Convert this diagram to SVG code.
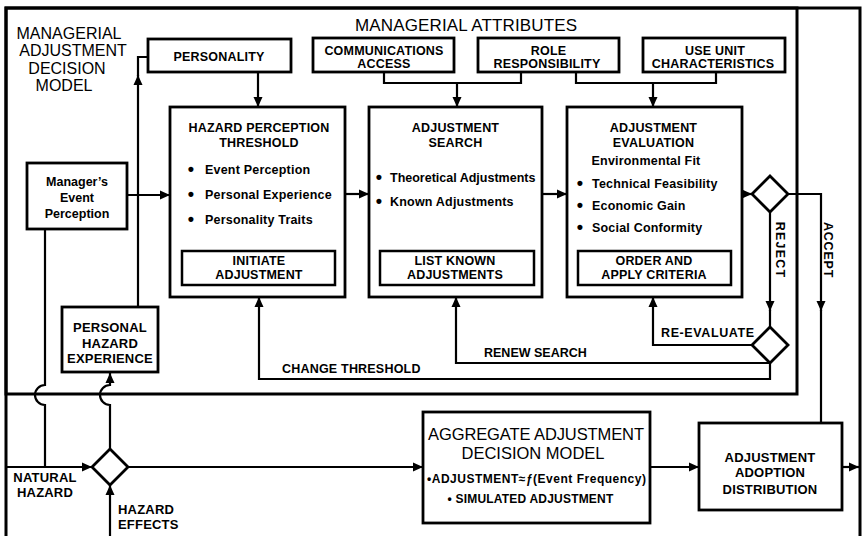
<svg xmlns="http://www.w3.org/2000/svg" width="864" height="536" viewBox="0 0 864 536">
<defs>
<marker id="ah" markerWidth="10" markerHeight="10" refX="10" refY="5" orient="auto" markerUnits="userSpaceOnUse"><path d="M0,0.5 L10,5 L0,9.5 Z" fill="#000"/></marker>
<style>
.fr{fill:none;stroke:#000;stroke-width:3}
.box{fill:#fff;stroke:#000;stroke-width:2.8}
.ib{fill:none;stroke:#000;stroke-width:2.5}
.ln{fill:none;stroke:#000;stroke-width:2.2}
.ar{marker-end:url(#ah)}
text{font-family:"Liberation Sans",Arial,sans-serif;fill:#000}
.b{font-weight:bold;font-size:12.5px;letter-spacing:0.2px}
.b13{font-weight:bold;font-size:13px;letter-spacing:0.2px}
.r{font-size:16px}
.m{text-anchor:middle}
.dot{font-size:18px;text-anchor:middle;font-weight:bold}
</style>
</defs>
<rect width="864" height="536" fill="#fff"/>
<g id="frame">
<path class="fr" d="M6,536 V8 H860 V536"/>
<rect class="fr" x="6" y="8" width="791" height="386"/>
<text class="r m" x="69" y="38.5">MANAGERIAL</text>
<text class="r m" x="73" y="56">ADJUSTMENT</text>
<text class="r m" x="67" y="73.5">DECISION</text>
<text class="r m" x="64" y="91">MODEL</text>
<text class="r m" x="466" y="31" style="font-size:17px" textLength="222">MANAGERIAL  ATTRIBUTES</text>
</g>
<g id="connectors">
<path class="ln ar" d="M127,195 H170"/>
<path class="ln ar" d="M138,307 V75"/>
<path class="ln" d="M138,76 V57 H148"/>
<path class="ln ar" d="M258,72 V107"/>
<path class="ln" d="M384,72 V83 H521 V72"/>
<path class="ln ar" d="M457,83 V107"/>
<path class="ln" d="M576,72 V83 H716 V72"/>
<path class="ln ar" d="M653,83 V107"/>
<path class="ln ar" d="M345,194 H369"/>
<path class="ln ar" d="M542,194 H567"/>
<path class="ln ar" d="M742,194 H752"/>
<path class="ln ar" d="M770,212 V311"/>
<path class="ln" d="M770,310 V327"/>
<path class="ln ar" d="M788,194 H821 V311"/>
<path class="ln" d="M821,310 V423"/>
<path class="ln ar" d="M752,345 H653 V297"/>
<path class="ln ar" d="M770,363 H456 V297"/>
<path class="ln ar" d="M770,363 V379 H259 V297"/>
<path class="ln" d="M45,229 V385 A10,10 0 0 0 45,405 V467"/>
<path class="ln ar" d="M110,449 V405 A10,10 0 0 1 110,385 V373"/>
<path class="ln ar" d="M6,467 H92"/>
<path class="ln ar" d="M110,536 V485"/>
<path class="ln ar" d="M128,467 H423"/>
<path class="ln ar" d="M650,467 H699"/>
<path class="ln ar" d="M842,467 H859"/>
<text class="b" transform="translate(776,250) rotate(90)" text-anchor="middle" style="letter-spacing:1.2px">REJECT</text>
<text class="b" transform="translate(824,250) rotate(90)" text-anchor="middle" style="letter-spacing:0.8px">ACCEPT</text>
<text class="b" x="661" y="337" style="letter-spacing:0.6px">RE-EVALUATE</text>
<text class="b" x="484" y="357" style="letter-spacing:0px">RENEW SEARCH</text>
<text class="b" x="282" y="373">CHANGE THRESHOLD</text>
<text class="b13 m" x="45" y="482">NATURAL</text>
<text class="b13 m" x="45" y="497">HAZARD</text>
<text class="b13" x="118" y="514">HAZARD</text>
<text class="b13" x="118" y="529">EFFECTS</text>
</g>
<g id="personality">
<rect class="box" x="148" y="39" width="143" height="33"/>
<text class="b m" x="219" y="61">PERSONALITY</text>
</g>
<g id="communications-access">
<rect class="box" x="313" y="38" width="141" height="34"/>
<text class="b m" x="384" y="55">COMMUNICATIONS</text>
<text class="b m" x="384" y="68">ACCESS</text>
</g>
<g id="role-responsibility">
<rect class="box" x="478" y="38" width="141" height="34"/>
<text class="b m" x="548.5" y="55">ROLE</text>
<text class="b m" x="547" y="68">RESPONSIBILITY</text>
</g>
<g id="use-unit-characteristics">
<rect class="box" x="643" y="38" width="142" height="34"/>
<text class="b m" x="715" y="55">USE UNIT</text>
<text class="b m" x="713" y="68">CHARACTERISTICS</text>
</g>
<g id="managers-event-perception">
<rect class="box" x="27" y="163" width="100" height="66"/>
<text class="b m" x="77" y="186" style="letter-spacing:0px">Manager’s</text>
<text class="b m" x="77" y="202" style="letter-spacing:0px">Event</text>
<text class="b m" x="77" y="218" style="letter-spacing:0px">Perception</text>
</g>
<g id="hazard-perception-threshold">
<rect class="box" x="170" y="107" width="175" height="190"/>
<text class="b m" x="259" y="132">HAZARD PERCEPTION</text>
<text class="b m" x="259" y="147">THRESHOLD</text>
<text class="dot" x="191" y="175">•</text>
<text class="dot" x="191" y="200">•</text>
<text class="dot" x="191" y="225">•</text>
<text class="b" x="205" y="174">Event Perception</text>
<text class="b" x="205" y="199">Personal Experience</text>
<text class="b" x="205" y="224">Personality Traits</text>
<rect class="ib" x="182" y="251" width="153" height="34"/>
<text class="b m" x="259" y="265">INITIATE</text>
<text class="b m" x="259" y="279">ADJUSTMENT</text>
</g>
<g id="adjustment-search">
<rect class="box" x="369" y="107" width="173" height="190"/>
<text class="b m" x="455.5" y="132">ADJUSTMENT</text>
<text class="b m" x="455.5" y="147">SEARCH</text>
<text class="dot" x="379" y="183">•</text>
<text class="dot" x="379" y="207">•</text>
<text class="b" x="390" y="182" style="letter-spacing:0px">Theoretical Adjustments</text>
<text class="b" x="390" y="206">Known Adjustments</text>
<rect class="ib" x="380" y="251" width="154" height="34"/>
<text class="b m" x="455" y="265">LIST KNOWN</text>
<text class="b m" x="455" y="279">ADJUSTMENTS</text>
</g>
<g id="adjustment-evaluation">
<rect class="box" x="567" y="107" width="175" height="190"/>
<text class="b m" x="653.5" y="132">ADJUSTMENT</text>
<text class="b m" x="653.5" y="147">EVALUATION</text>
<text class="b m" x="646" y="165">Environmental Fit</text>
<text class="dot" x="580" y="188.5">•</text>
<text class="dot" x="580" y="211">•</text>
<text class="dot" x="580" y="232.5">•</text>
<text class="b" x="592" y="187.5">Technical Feasibility</text>
<text class="b" x="592" y="210">Economic Gain</text>
<text class="b" x="592" y="231.5">Social Conformity</text>
<rect class="ib" x="578" y="251" width="153" height="34"/>
<text class="b m" x="654" y="265">ORDER AND</text>
<text class="b m" x="654" y="279">APPLY CRITERIA</text>
</g>
<g id="decision-diamond">
<polygon class="box" points="770,176 788,194 770,212 752,194"/>
</g>
<g id="reevaluate-diamond">
<polygon class="box" points="770,327 788,345 770,363 752,345"/>
</g>
<g id="personal-hazard-experience">
<rect class="box" x="62" y="307" width="96" height="65"/>
<text class="b13 m" x="110" y="332">PERSONAL</text>
<text class="b13 m" x="110" y="348">HAZARD</text>
<text class="b13 m" x="110" y="363">EXPERIENCE</text>
</g>
<g id="hazard-diamond">
<polygon class="box" points="110,449 128,467 110,485 92,467"/>
</g>
<g id="aggregate-adjustment-decision-model">
<rect class="box" x="423" y="412" width="227" height="111"/>
<text class="r m" x="536" y="440" style="font-size:16.5px" textLength="216">AGGREGATE ADJUSTMENT</text>
<text class="r m" x="533" y="459" style="font-size:16.5px">DECISION MODEL</text>
<text class="b" x="427" y="483" style="font-size:12px;letter-spacing:0px" textLength="219">•ADJUSTMENT≈ƒ(Event Frequency)</text>
<text class="b m" x="530.5" y="503" style="font-size:12px">• SIMULATED ADJUSTMENT</text>
</g>
<g id="adjustment-adoption-distribution">
<rect class="box" x="699" y="423" width="143" height="87"/>
<text class="b13 m" x="770" y="462">ADJUSTMENT</text>
<text class="b13 m" x="770" y="477">ADOPTION</text>
<text class="b13 m" x="770" y="494">DISTRIBUTION</text>
</g>
</svg>
